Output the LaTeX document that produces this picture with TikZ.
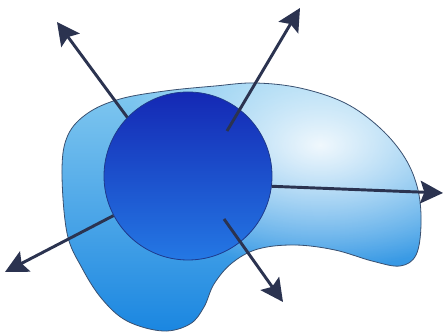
\documentclass[tikz,border=0pt]{standalone}
\usetikzlibrary{arrows.meta,fadings}
\tikzfading[name=glow, inner color=transparent!0, outer color=transparent!100]
\definecolor{arrowc}{HTML}{2B3350}
\definecolor{blobtop}{HTML}{84CAF0}
\definecolor{blobmid}{HTML}{2CA2EA}
\definecolor{blobbot}{HTML}{1784E0}
\definecolor{blobedge}{HTML}{3A5070}
\definecolor{cirtop}{HTML}{1428B4}
\definecolor{cirbot}{HTML}{2478E4}
\definecolor{ciredge}{HTML}{1E3A8C}
\begin{document}
\begin{tikzpicture}[x=0.75pt,y=-0.75pt,
  arr/.style={draw=arrowc, line width=2.2pt, -{Stealth[length=17pt,width=17pt,inset=3pt]}},
  cell/.style={circle, minimum size=126pt, inner sep=0pt, draw=ciredge, line width=0.6pt, top color=cirtop, bottom color=cirbot}]
\useasboundingbox (0,0) rectangle (444,334);
\fill[white] (0,0) rectangle (444,334);
\def\blobpath{plot[smooth cycle, tension=0.6] coordinates {(62,170) (68,135) (88,113) (120,99) (165,91) (215,86) (255,83) (300,88) (345,103) (380,128) (405,158) (418,190) (421,225) (416,255) (400,266) (372,261) (335,250) (295,245) (258,249) (232,263) (214,284) (204,307) (190,324) (163,331) (127,321) (102,299) (82,268) (67,233)}}
\begin{scope}
  \clip \blobpath;
  \shade[top color=blobtop, middle color=blobmid, bottom color=blobbot] (50,80) rectangle (430,340);
  \fill[white, path fading=glow, fill opacity=0.9] (320,145) ellipse (200 and 125);
\end{scope}
\draw[blobedge, line width=0.6pt] \blobpath;
\node[cell] (c) at (188,176) {};
\coordinate (s2) at (227,131);
\coordinate (s5) at (224,219);
\coordinate (t1) at (57,22);
\coordinate (t2) at (300,8);
\coordinate (t3) at (443,193);
\coordinate (t4) at (5,272);
\coordinate (t5) at (283,302);
\draw[arr] (c.136) -- (t1);
\draw[arr] (s2) -- (t2);
\draw[arr] (c.-7) -- (t3);
\draw[arr] (c.208) -- (t4);
\draw[arr] (s5) -- (t5);
\end{tikzpicture}
\end{document}
